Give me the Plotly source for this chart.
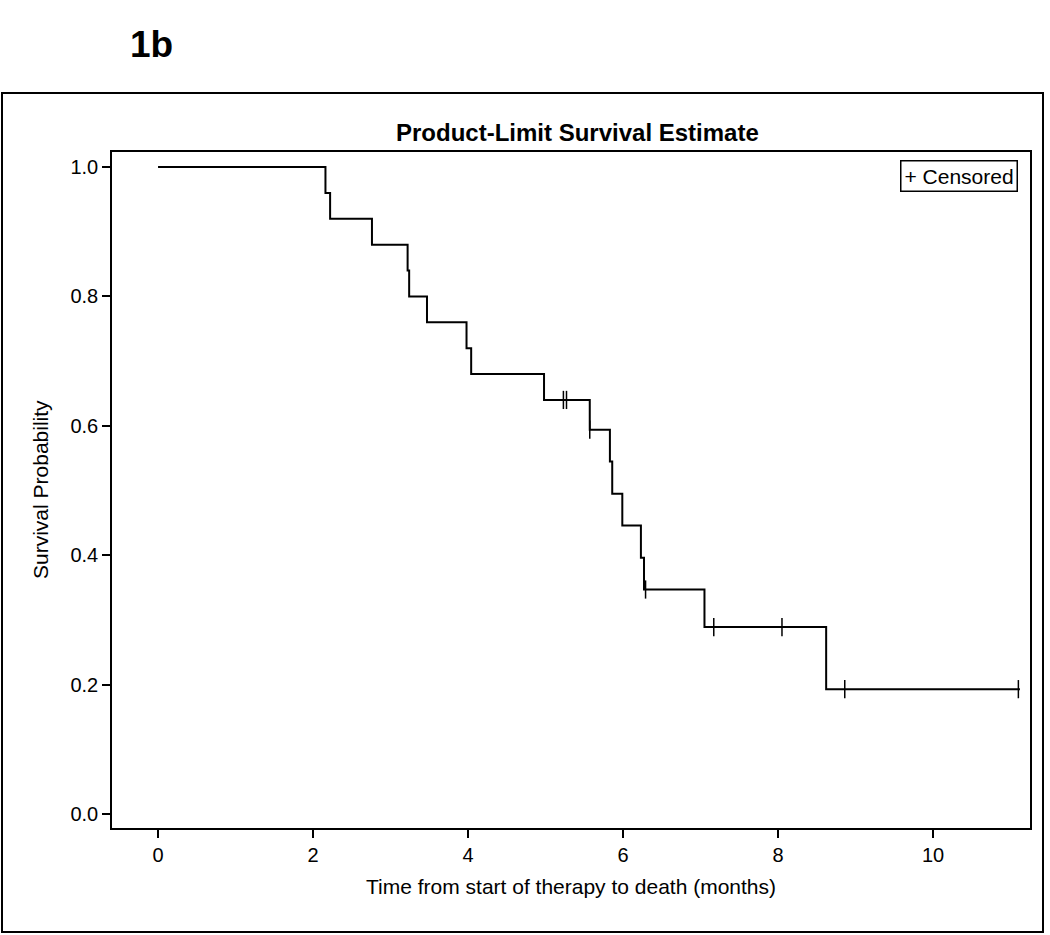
import plotly.graph_objects as go

# Kaplan-Meier step curve
step_times = [0.0, 2.16, 2.22, 2.76, 3.22, 3.24, 3.47, 3.98, 4.04, 4.98,
              5.57, 5.83, 5.86, 5.99, 6.23, 6.27, 7.05, 8.62, 11.12]
step_surv = [1.0, 0.96, 0.92, 0.88, 0.84, 0.80, 0.76, 0.72, 0.68, 0.64,
             0.594, 0.545, 0.495, 0.446, 0.396, 0.347, 0.289, 0.193, 0.193]

censor_times = [5.23, 5.27, 5.57, 6.29, 7.17, 8.05, 8.86, 11.10]
censor_surv = [0.64, 0.64, 0.594, 0.347, 0.289, 0.289, 0.193, 0.193]

x_ticks = [0, 2, 4, 6, 8, 10]
y_ticks = [0.0, 0.2, 0.4, 0.6, 0.8, 1.0]

W, H = 1050, 935
L, R, T, B = 112, 1030, 152, 828
pw, ph = R - L, B - T

def px(x):
    return (x - L) / pw

def py(y):
    return (B - y) / ph

FONT = "Liberation Sans, Arial, sans-serif"

fig = go.Figure()
fig.add_trace(go.Scatter(x=step_times, y=step_surv, mode="lines",
                         line=dict(color="black", width=2, shape="hv"),
                         showlegend=False, hoverinfo="skip"))
fig.add_trace(go.Scatter(x=censor_times, y=censor_surv, mode="markers",
                         marker=dict(symbol="line-ns", size=13,
                                     line=dict(color="black", width=1.5)),
                         showlegend=False))

fig.update_layout(
    width=W, height=H, autosize=False,
    margin=dict(l=L, r=W - R, t=T, b=H - B),
    paper_bgcolor="white", plot_bgcolor="white",
    font=dict(family=FONT, size=20, color="black"),
    showlegend=False,
)
fig.update_xaxes(range=[-0.594, 11.25], tickvals=x_ticks, ticks="outside",
                 ticklen=8, tickwidth=1.5, tickcolor="black",
                 showline=True, linecolor="black", linewidth=1.5, mirror=True,
                 showgrid=False, zeroline=False,
                 tickfont=dict(size=20, family=FONT))
fig.update_yaxes(range=[-0.0216, 1.0232], tickvals=y_ticks, tickformat=".1f",
                 ticks="outside", ticklen=8, tickwidth=1.5, tickcolor="black",
                 showline=True, linecolor="black", linewidth=1.5, mirror=True,
                 showgrid=False, zeroline=False,
                 tickfont=dict(size=20, family=FONT))

# outer frame
fig.add_shape(type="rect", xref="paper", yref="paper",
              x0=px(2), x1=px(1043), y0=py(932), y1=py(93),
              line=dict(color="black", width=2), fillcolor="rgba(0,0,0,0)")

annotations = [
    dict(text="<b>1b</b>", x=px(128), y=py(44), xanchor="left", yanchor="middle",
         font=dict(size=37, family=FONT)),
    dict(text="<b>Product-Limit Survival Estimate</b>", x=px(577), y=py(133),
         xanchor="center", yanchor="middle", font=dict(size=24, family=FONT)),
    dict(text="Time from start of therapy to death (months)", x=px(571), y=py(886),
         xanchor="center", yanchor="middle", font=dict(size=21, family=FONT)),
    dict(text="Survival Probability", x=px(40), y=py(490), textangle=-90,
         xanchor="center", yanchor="middle", font=dict(size=21, family=FONT)),
    dict(text="+ Censored", x=px(959), y=py(176), xanchor="center", yanchor="middle",
         bordercolor="black", borderwidth=1.5, borderpad=3,
         font=dict(size=21, family=FONT)),
]
for a in annotations:
    a.update(xref="paper", yref="paper", showarrow=False)
    fig.add_annotation(**a)

fig.write_html("out.html", config={"displayModeBar": False},
               post_script="document.body.style.margin='0';document.body.style.overflow='hidden';")
